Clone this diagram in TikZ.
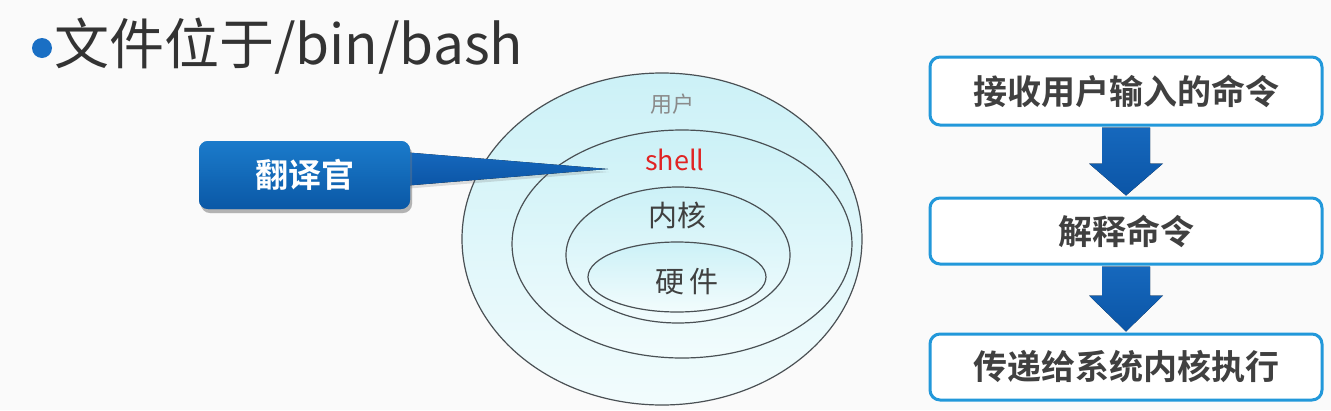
\documentclass[tikz,border=0pt]{standalone}
\usepackage{fontspec}
\setmainfont{Noto Sans CJK SC}[BoldFont={Noto Sans CJK SC Bold}]
\usetikzlibrary{shadows,calc}
\definecolor{bgc}{HTML}{FAFAFA}
\definecolor{titlec}{HTML}{333333}
\definecolor{bulletc}{HTML}{1A6FC4}
\definecolor{ringtop}{HTML}{CCF1F7}
\definecolor{ringbot}{HTML}{F2FCFD}
\definecolor{ringline}{HTML}{4A5054}
\definecolor{calltop}{HTML}{1B7BCB}
\definecolor{callbot}{HTML}{0A58A6}
\definecolor{boxline}{HTML}{2298DA}
\definecolor{arrowtop}{HTML}{1668BD}
\definecolor{arrowbot}{HTML}{0B55A6}
\definecolor{redc}{HTML}{E02424}
\definecolor{darkt}{HTML}{404040}
\definecolor{lightt}{HTML}{8A8A8A}
\tikzset{
  ring/.style={draw=ringline, line width=1.2pt, top color=ringtop, bottom color=ringbot},
  flowbox/.style={draw=boxline, line width=3pt, fill=white, rounded corners=10pt,
    minimum width=392pt, inner sep=0pt, font=\fontsize{34}{40}\selectfont\bfseries, text=darkt},
  callbox/.style={rounded corners=9pt, top color=calltop, bottom color=callbot,
    minimum width=211pt, minimum height=68pt, inner sep=0pt,
    font=\fontsize{33}{38}\selectfont\bfseries, text=white,
    drop shadow={shadow xshift=2pt, shadow yshift=-4pt, opacity=0.35}},
  blockarrow/.style={top color=arrowtop, bottom color=arrowbot},
  lbl/.style={inner sep=0pt}
}
\begin{document}
\begin{tikzpicture}[x=1pt,y=-1pt]
\useasboundingbox (0,0) rectangle (1331,410);
\fill[bgc] (0,0) rectangle (1331,410);

% title
\fill[bulletc] (42,48) circle (10pt);
\node[lbl, anchor=west, text=titlec, font=\fontsize{55}{60}\selectfont] (title) at (54,46) {文件位于/bin/bash};

% rings
\path[ring] (662,239) ellipse [x radius=200pt, y radius=166pt];
\path[ring] (682,244) ellipse [x radius=170pt, y radius=114pt];
\path[ring] (678,255) ellipse [x radius=112pt, y radius=68pt];
\path[ring] (677,277) ellipse [x radius=89pt, y radius=35pt];

\node[lbl, text=lightt, font=\fontsize{22}{26}\selectfont] (user) at (672,104) {用户};
\node[lbl, text=redc, font=\fontsize{27}{30}\selectfont] (shell) at (675,160) {shell};
\node[lbl, text=darkt, font=\fontsize{29}{32}\selectfont] (kernel) at (677,215) {内核};
\node[lbl, text=darkt, font=\fontsize{29}{32}\selectfont] (hw) at (687,282) {硬\,件};

% callout
\coordinate (tip) at (608,169);
\node[callbox] (call) at (304.5,175) {};
\fill[blockarrow, drop shadow={shadow xshift=1pt, shadow yshift=-3pt, opacity=0.25}]
  ([xshift=-8pt,yshift=23pt]call.east) -- (tip) -- ([xshift=-8pt,yshift=-11pt]call.east) -- cycle;
\node[callbox] (call2) at (304.5,175) {翻译官};

% flow
\node[flowbox, minimum height=68pt] (b1) at (1126,91) {接收用户输入的命令};
\node[flowbox, minimum height=66pt] (b2) at (1126,231) {解释命令};
\node[flowbox, minimum height=66pt] (b3) at (1126,367) {传递给系统内核执行};

\fill[blockarrow] ([xshift=-24pt,yshift=-1pt]b1.south) -- ([xshift=24pt,yshift=-1pt]b1.south)
  -- ([xshift=24pt,yshift=33pt]b2.north) -- ([xshift=37pt,yshift=33pt]b2.north)
  -- ([yshift=1pt]b2.north) -- ([xshift=-37pt,yshift=33pt]b2.north)
  -- ([xshift=-24pt,yshift=33pt]b2.north) -- cycle;
\fill[blockarrow] ([xshift=-24pt,yshift=-1pt]b2.south) -- ([xshift=24pt,yshift=-1pt]b2.south)
  -- ([xshift=24pt,yshift=37pt]b3.north) -- ([xshift=37pt,yshift=37pt]b3.north)
  -- ([yshift=1pt]b3.north) -- ([xshift=-37pt,yshift=37pt]b3.north)
  -- ([xshift=-24pt,yshift=37pt]b3.north) -- cycle;
\end{tikzpicture}
\end{document}
